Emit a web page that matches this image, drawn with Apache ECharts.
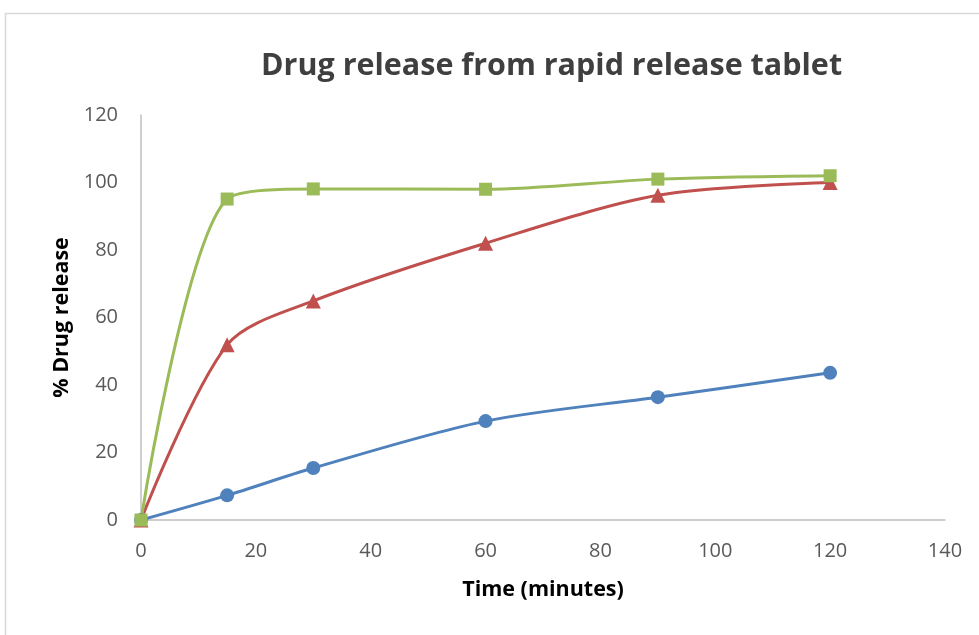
<!DOCTYPE html>
<html>
<head>
<meta charset="utf-8">
<script src="https://cdn.jsdelivr.net/npm/echarts@6/dist/echarts.min.js"></script>
<style>
  html, body { margin: 0; padding: 0; background: #ffffff; }
  #chart { width: 979px; height: 635px; }
</style>
</head>
<body>
<div id="chart"></div>
<script>
// Sampling times (minutes) and cumulative drug release (%) for three batches
const timePoints = [0, 15, 30, 60, 90, 120];
const blueRelease = [0, 7.3, 15.4, 29.3, 36.4, 43.6];
const redRelease = [0, 51.9, 64.9, 82.0, 96.2, 100.0];
const greenRelease = [0, 95.1, 98.1, 98.0, 101.0, 102.0];

const titleText = 'Drug release from rapid release tablet';
const xAxisTitle = 'Time (minutes)';
const yAxisTitle = '% Drug release';

const FONT = '"Open Sans", "Liberation Sans", sans-serif';

function pairs(values) {
  return timePoints.map((t, i) => [t, values[i]]);
}

function lineSeries(values, color, symbol, size) {
  return {
    type: 'line',
    data: pairs(values),
    smooth: 0.3,
    symbol: symbol,
    symbolSize: size,
    showAllSymbol: true,
    lineStyle: { color: color, width: 3 },
    itemStyle: { color: color },
    emphasis: { disabled: true },
    z: 3
  };
}

const chart = echarts.init(document.getElementById('chart'), null, { renderer: 'canvas' });
chart.setOption({
  animation: false,
  backgroundColor: '#ffffff',
  title: {
    text: titleText,
    left: 256,
    top: 46,
    textStyle: { fontFamily: FONT, fontSize: 30.5, fontWeight: 'bold', color: '#3f3f3f' }
  },
  graphic: [{
    type: 'rect',
    shape: { x: 5.5, y: 13.5, width: 1000, height: 700 },
    style: { fill: 'none', stroke: '#d9d9d9', lineWidth: 1.5 },
    silent: true,
    z: -1
  }],
  grid: { left: 141, right: 34, top: 115, bottom: 115, containLabel: false },
  xAxis: {
    type: 'value',
    min: 0, max: 140, interval: 20,
    name: xAxisTitle,
    nameLocation: 'middle',
    nameGap: 59,
    nameTextStyle: { fontFamily: FONT, fontSize: 21.5, fontWeight: 'bold', color: '#000000' },
    axisLine: { show: true, lineStyle: { color: '#bfbfbf', width: 1.5 } },
    axisTick: { show: false },
    splitLine: { show: false },
    axisLabel: { margin: 21, fontFamily: FONT, fontSize: 20, color: '#595959' }
  },
  yAxis: {
    type: 'value',
    min: 0, max: 120, interval: 20,
    name: yAxisTitle,
    nameLocation: 'middle',
    nameGap: 67,
    nameRotate: 90,
    nameTextStyle: { fontFamily: FONT, fontSize: 21.5, fontWeight: 'bold', color: '#000000' },
    axisLine: { show: true, lineStyle: { color: '#bfbfbf', width: 1.5 } },
    axisTick: { show: false },
    splitLine: { show: false },
    axisLabel: { margin: 23, fontFamily: FONT, fontSize: 20, color: '#595959' }
  },
  series: [
    lineSeries(blueRelease, '#4f81bd', 'circle', 14),
    lineSeries(redRelease, '#c0504d', 'triangle', 15),
    lineSeries(greenRelease, '#9bbb59', 'rect', 13)
  ]
});
</script>
</body>
</html>
